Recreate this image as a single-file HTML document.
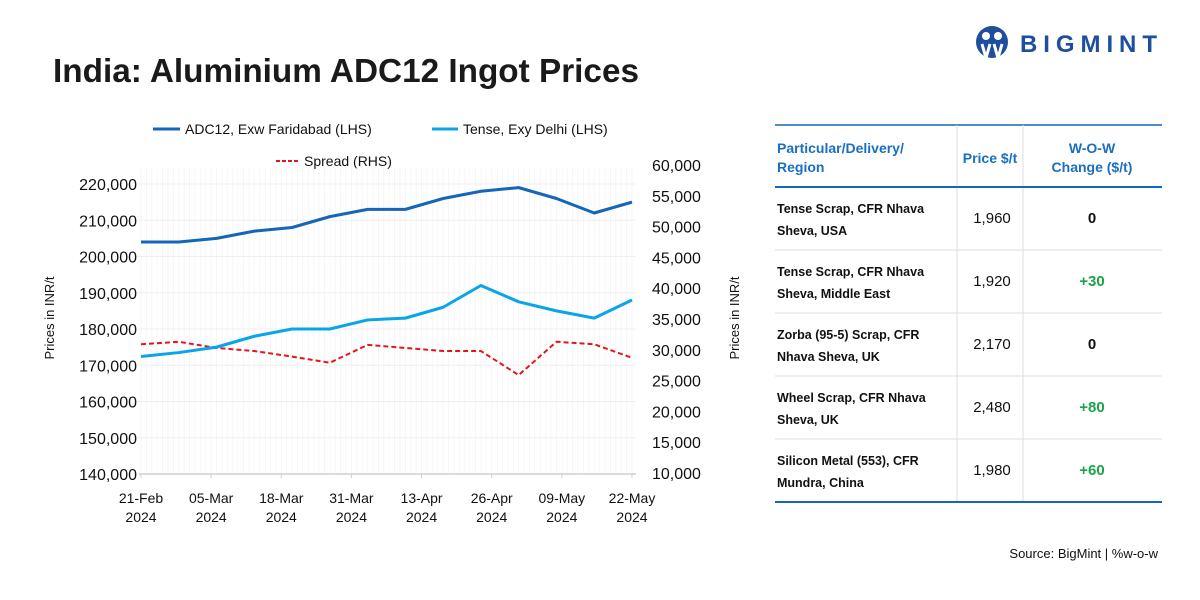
<!DOCTYPE html>
<html><head><meta charset="utf-8"><style>
body{margin:0;background:#fff}
svg{display:block;font-family:"Liberation Sans",sans-serif}
</style></head><body>
<svg id="c" width="1200" height="600" viewBox="0 0 1200 600">
<text x="53" y="82" font-size="33" font-weight="bold" fill="#1a1a1a" textLength="586" lengthAdjust="spacingAndGlyphs">India: Aluminium ADC12 Ingot Prices</text>
<g>
<circle cx="992" cy="42" r="16" fill="#1d4f9c"/>
<circle cx="986" cy="36" r="4" fill="#fff"/><circle cx="998" cy="36" r="4" fill="#fff"/>
<path d="M982 44 L986 58 L990 44 M994 44 L998 58 L1002 44" stroke="#fff" stroke-width="3" fill="none"/>
<text x="1020" y="52" font-size="24" font-weight="bold" fill="#1d4f9c" textLength="137" lengthAdjust="spacing">BIGMINT</text>
</g>
<g>
<line x1="153" y1="129" x2="180" y2="129" stroke="#1565b8" stroke-width="3"/>
<text x="185" y="134" font-size="14" fill="#111">ADC12, Exw Faridabad (LHS)</text>
<line x1="432" y1="129" x2="458" y2="129" stroke="#0aa5e8" stroke-width="3"/>
<text x="463" y="134" font-size="14" fill="#111">Tense, Exy Delhi (LHS)</text>
<line x1="276" y1="161" x2="300" y2="161" stroke="#e8141c" stroke-width="2" stroke-dasharray="4,2"/>
<text x="304" y="166" font-size="14" fill="#111">Spread (RHS)</text>
</g>
<text transform="translate(54,318) rotate(-90)" font-size="13" text-anchor="middle" fill="#111">Prices in INR/t</text>
<text transform="translate(739,318) rotate(-90)" font-size="13" text-anchor="middle" fill="#111">Prices in INR/t</text>
<g id="plot"></g>
<g>
<line x1="775" y1="125" x2="1162" y2="125" stroke="#1565b8" stroke-width="1.5"/>
<line x1="957" y1="125" x2="957" y2="502" stroke="#ddd"/>
<line x1="1023" y1="125" x2="1023" y2="502" stroke="#ddd"/>
<text font-size="14" font-weight="bold" fill="#1a6fc0"><tspan x="777" y="153">Particular/Delivery/</tspan><tspan x="777" y="172">Region</tspan></text>
<text x="990" y="163" font-size="14" font-weight="bold" fill="#1a6fc0" text-anchor="middle">Price $/t</text>
<text font-size="14" font-weight="bold" fill="#1a6fc0" text-anchor="middle"><tspan x="1092" y="153">W-O-W</tspan><tspan x="1092" y="172">Change ($/t)</tspan></text>
<line x1="775" y1="187" x2="1162" y2="187" stroke="#1565b8" stroke-width="2"/>
<g id="rows"></g>
<line x1="775" y1="502" x2="1162" y2="502" stroke="#1565b8" stroke-width="2"/>
</g>
<text x="1158" y="558" font-size="13" fill="#111" text-anchor="end">Source: BigMint  | %w-o-w</text>
</svg>
<script>
const dates=["21-Feb","05-Mar","18-Mar","31-Mar","13-Apr","26-Apr","09-May","22-May"];
const years=["2024","2024","2024","2024","2024","2024","2024","2024"];
const leftTicks=[140000,150000,160000,170000,180000,190000,200000,210000,220000];
const rightTicks=[10000,15000,20000,25000,30000,35000,40000,45000,50000,55000,60000];
const adc12=[204000,204000,205000,207000,208000,211000,213000,213000,216000,218000,219000,216000,212000,215000];
const tense=[172400,173500,175000,178000,180000,180000,182500,183000,186000,192000,187500,185000,183000,188000];
const spread=[30900,31300,30300,29800,28900,27900,30800,30300,29800,29800,25900,31300,30900,28700];
const rowLabels=[["Tense Scrap, CFR Nhava","Sheva, USA"],["Tense Scrap, CFR Nhava","Sheva, Middle East"],["Zorba (95-5) Scrap, CFR","Nhava Sheva, UK"],["Wheel Scrap, CFR Nhava","Sheva, UK"],["Silicon Metal (553), CFR","Mundra, China"]];
const rowPrices=["1,960","1,920","2,170","2,480","1,980"];
const rowChanges=["0","+30","0","+80","+60"];

const NS="http://www.w3.org/2000/svg";
const X0=141,X1=632,YT=184,YB=474;
const xs=i=>X0+(X1-X0)*i/(adc12.length-1);
const yl=v=>YB-(v-140000)/(220000-140000)*(YB-YT);
const yr=v=>473-(v-10000)/(60000-10000)*(473-165);
const plot=document.getElementById('plot');
function mk(t,a,p){const e=document.createElementNS(NS,t);for(const k in a)e.setAttribute(k,a[k]);(p||plot).appendChild(e);return e;}
for(let d=0;d<=91;d++){mk('line',{x1:X0+(X1-X0)*d/91,y1:168,x2:X0+(X1-X0)*d/91,y2:YB,stroke:'#f6f6f6','stroke-width':1});}
leftTicks.forEach(v=>{
 mk('line',{x1:X0-4,y1:yl(v),x2:X1+4,y2:yl(v),stroke:'#efefef'});
 const t=mk('text',{x:137,y:yl(v)+6,'font-size':16,'text-anchor':'end',fill:'#111'});t.textContent=v.toLocaleString('en-US');
 
 
});
rightTicks.forEach(v=>{
 const t=mk('text',{x:652,y:yr(v)+6,'font-size':16,fill:'#111'});t.textContent=v.toLocaleString('en-US');
 
 
});
mk('line',{x1:X0-2,y1:YB,x2:X1+4,y2:YB,stroke:'#d0d0d0','stroke-width':1.5});
dates.forEach((d,i)=>{
 const x=X0+(X1-X0)*i/(dates.length-1);
 mk('line',{x1:x,y1:YB,x2:x,y2:YB+4,stroke:'#d0d0d0'});
 const t=mk('text',{x:x,y:503,'font-size':14,'text-anchor':'middle',fill:'#111'});t.textContent=d;
 
 
 const y=mk('text',{x:x,y:522,'font-size':14,'text-anchor':'middle',fill:'#111'});y.textContent=years[i];
 
 
});
function line(arr,f,attrs,name){
 const p=mk('polyline',Object.assign({points:arr.map((v,i)=>xs(i)+','+f(v)).join(' '),fill:'none','stroke-linejoin':'round'},attrs));
 
 
}
line(spread,yr,{stroke:'#e8141c','stroke-width':2,'stroke-dasharray':'5,3'},'spread-line');
line(tense,yl,{stroke:'#0aa5e8','stroke-width':3},'tense-line');
line(adc12,yl,{stroke:'#1565b8','stroke-width':3},'adc12-line');
const rows=document.getElementById('rows');
rowLabels.forEach((l,i)=>{
 const top=187+63*i;
 if(i>0)mk('line',{x1:775,y1:top,x2:1162,y2:top,stroke:'#ddd'},rows);
 const t=mk('text',{'font-size':12.5,'font-weight':'bold',fill:'#111'},rows);
 t.innerHTML='<tspan x="777" y="'+(top+26)+'">'+l[0]+'</tspan><tspan x="777" y="'+(top+48)+'">'+l[1]+'</tspan>';
 
 
 const p=mk('text',{x:992,y:top+36,'font-size':15,'text-anchor':'middle',fill:'#111'},rows);p.textContent=rowPrices[i];
 
 
 const c=mk('text',{x:1092,y:top+36,'font-size':15,'font-weight':'bold','text-anchor':'middle',fill:rowChanges[i]==='0'?'#111':'#1aa34a'},rows);c.textContent=rowChanges[i];
 
 
});
</script>
</body></html>
